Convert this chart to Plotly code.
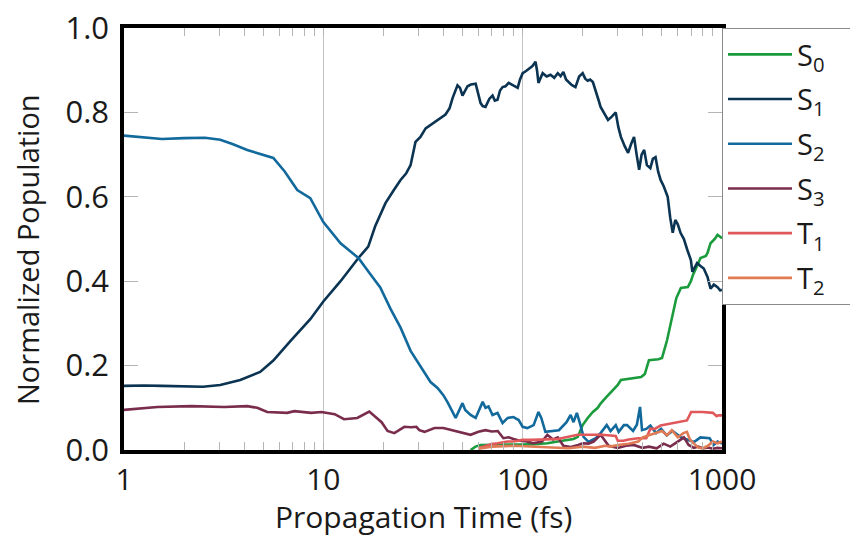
import plotly.graph_objects as go

# ---------------- data ----------------
t_s0 = [54.8, 58, 61.5, 70, 80, 100, 115, 133, 150, 168, 180, 189, 195, 200, 212, 225, 238, 246,
        260, 268, 280, 300, 311, 338, 393, 410, 430, 480, 500, 530, 553, 566, 590, 622, 650, 674,
        698, 715, 740, 780, 830, 846, 876, 920, 950, 980, 1000]
v_s0 = [0.0, 0.008, 0.012, 0.012, 0.012, 0.013, 0.014, 0.016, 0.020, 0.024, 0.026, 0.031, 0.045,
        0.059, 0.076, 0.090, 0.100, 0.110, 0.123, 0.130, 0.140, 0.154, 0.166, 0.168, 0.173, 0.180,
        0.213, 0.215, 0.218, 0.260, 0.300, 0.325, 0.360, 0.384, 0.385, 0.386, 0.400, 0.415, 0.430,
        0.455, 0.460, 0.467, 0.490, 0.500, 0.510, 0.505, 0.502]

t_s1 = [1, 1.26, 1.55, 2.0, 2.49, 3.04, 3.83, 4.82, 5.61, 6.83, 8.6, 10, 12.2, 15.0, 16.8, 18.2,
        20.5, 22.5, 24.4, 26, 27.4, 29.0, 30.7, 32.6, 35, 37.4, 41.0, 43, 44.5, 47.1, 48.5, 49.9,
        52.9, 55, 58.1, 61.5, 63, 65.1, 68, 70.6, 72.5, 74.8, 77, 79.3, 82, 85.1, 90, 94.4, 97, 100,
        104, 107, 112, 116, 118, 120, 126, 132, 138, 144, 150, 155, 160, 165, 169.6, 176, 184, 192,
        200, 206, 212, 218, 225, 233, 240, 246, 256, 268, 280, 293, 302, 311, 325, 338, 350, 362,
        373, 384, 395, 407, 420, 437, 450, 464, 478, 492, 510, 534, 550, 566, 583, 600, 620, 644,
        670, 698, 710, 723, 750, 780, 810, 846, 876, 910, 950, 980, 1000]
v_s1 = [0.152, 0.153, 0.152, 0.151, 0.150, 0.154, 0.166, 0.185, 0.212, 0.258, 0.310, 0.352, 0.400,
        0.455, 0.482, 0.530, 0.585, 0.615, 0.640, 0.655, 0.675, 0.730, 0.742, 0.762, 0.772, 0.782,
        0.795, 0.810, 0.834, 0.864, 0.858, 0.840, 0.862, 0.866, 0.868, 0.822, 0.815, 0.813, 0.832,
        0.840, 0.828, 0.830, 0.852, 0.860, 0.862, 0.870, 0.864, 0.858, 0.878, 0.893, 0.898, 0.902,
        0.910, 0.920, 0.900, 0.870, 0.893, 0.885, 0.889, 0.882, 0.893, 0.886, 0.896, 0.878, 0.872,
        0.865, 0.860, 0.885, 0.893, 0.880, 0.875, 0.878, 0.872, 0.846, 0.830, 0.813, 0.800, 0.782,
        0.790, 0.800, 0.765, 0.742, 0.720, 0.704, 0.725, 0.742, 0.700, 0.664, 0.700, 0.711, 0.675,
        0.668, 0.690, 0.694, 0.660, 0.640, 0.625, 0.600, 0.550, 0.515, 0.545, 0.535, 0.514, 0.500,
        0.474, 0.450, 0.422, 0.430, 0.443, 0.436, 0.430, 0.410, 0.382, 0.392, 0.386, 0.378, 0.380]

t_s2 = [1, 1.26, 1.55, 2.0, 2.55, 3.04, 3.5, 4.15, 5.0, 5.61, 6.4, 7.4, 8.6, 10, 12.2, 15.0, 17.0,
        19.3, 21.7, 24.4, 27.4, 30.7, 34.5, 37.4, 40.0, 41.9, 46.1, 49.9, 51.5, 54.8, 58.1, 63.0,
        65.1, 67.4, 70.6, 74.8, 79.3, 84.1, 89.8, 95.5, 100, 105.5, 113.5, 120, 124, 130, 140, 152,
        166, 174, 180, 187, 195, 202, 214, 233, 246, 264, 276, 293, 303, 322, 334, 358, 374, 388,
        397, 417, 437, 467, 495, 527, 566, 622, 667, 723, 780, 867, 907, 950, 1000]
v_s2 = [0.745, 0.741, 0.737, 0.739, 0.740, 0.735, 0.725, 0.711, 0.700, 0.692, 0.660, 0.616, 0.597,
        0.540, 0.490, 0.455, 0.420, 0.385, 0.335, 0.290, 0.235, 0.200, 0.161, 0.147, 0.130, 0.114,
        0.076, 0.111, 0.095, 0.083, 0.076, 0.114, 0.100, 0.103, 0.083, 0.088, 0.064, 0.076, 0.078,
        0.071, 0.055, 0.052, 0.059, 0.090, 0.076, 0.043, 0.045, 0.047, 0.066, 0.083, 0.066, 0.088,
        0.059, 0.031, 0.019, 0.028, 0.040, 0.059, 0.045, 0.059, 0.043, 0.059, 0.059, 0.045, 0.060,
        0.102, 0.047, 0.050, 0.058, 0.040, 0.050, 0.035, 0.045, 0.030, 0.025, 0.019, 0.030, 0.028,
        0.012, 0.020, 0.015]

t_s3 = [1, 1.47, 2.17, 3.18, 4.15, 4.66, 5.23, 6.59, 7.15, 8.7, 9.78, 11.4, 12.7, 14.8, 17.0, 19.6,
        21.0, 22.7, 25.5, 27.5, 29.3, 30.3, 32.2, 36.1, 40, 45, 49.5, 54.8, 60, 65, 70, 75, 80, 85,
        90, 97, 105, 113, 125, 133, 142, 150, 160, 174, 190, 200, 214, 227, 246, 270, 300, 330, 360,
        400, 430, 470, 510, 550, 600, 644, 680, 723, 760, 800, 850, 900, 950, 1000]
v_s3 = [0.095, 0.102, 0.104, 0.102, 0.104, 0.100, 0.090, 0.088, 0.092, 0.088, 0.090, 0.085, 0.073,
        0.076, 0.091, 0.066, 0.045, 0.040, 0.055, 0.054, 0.055, 0.047, 0.043, 0.052, 0.052, 0.046,
        0.040, 0.036, 0.043, 0.047, 0.044, 0.045, 0.028, 0.030, 0.026, 0.022, 0.020, 0.016, 0.020,
        0.036, 0.025, 0.030, 0.010, 0.007, 0.012, 0.016, 0.015, 0.020, 0.036, 0.010, 0.005, 0.010,
        0.012, 0.005, 0.008, 0.004, 0.015, 0.008, 0.020, 0.030, 0.012, 0.005, 0.008, 0.004, 0.006,
        0.003, 0.005, 0.004]

t_t1 = [60, 66, 70, 75, 84, 90, 100, 110, 150, 189, 200, 250, 293, 300, 320, 340, 380, 417, 437,
        460, 492, 520, 560, 640, 667, 700, 723, 800, 900, 940, 960, 1000]
v_t1 = [0.004, 0.010, 0.014, 0.016, 0.020, 0.020, 0.024, 0.024, 0.026, 0.036, 0.036, 0.036, 0.033,
        0.022, 0.022, 0.025, 0.028, 0.028, 0.050, 0.050, 0.058, 0.060, 0.062, 0.068, 0.070, 0.090,
        0.090, 0.090, 0.088, 0.080, 0.082, 0.082]

t_t2 = [60, 70, 90, 110, 140, 170, 200, 230, 260, 276, 300, 340, 380, 400, 430, 460, 500, 530, 560,
        600, 640, 667, 690, 723, 760, 800, 850, 900, 950, 1000]
v_t2 = [0.003, 0.008, 0.010, 0.008, 0.006, 0.004, 0.008, 0.005, 0.010, 0.008, 0.012, 0.015, 0.020,
        0.030, 0.035, 0.040, 0.045, 0.035, 0.047, 0.030, 0.040, 0.043, 0.025, 0.015, 0.006, 0.004,
        0.010, 0.020, 0.016, 0.020]

names = ["S<sub>0</sub>", "S<sub>1</sub>", "S<sub>2</sub>", "S<sub>3</sub>", "T<sub>1</sub>", "T<sub>2</sub>"]
colors = ["#1a9b3c", "#0b3352", "#11699c", "#7a2c4d", "#e0585a", "#e07b55"]
series = [(t_s0, v_s0), (t_s1, v_s1), (t_s2, v_s2), (t_s3, v_s3), (t_t1, v_t1), (t_t2, v_t2)]

x_major = [1, 10, 100, 1000]
x_minor = [2, 3, 4, 5, 6, 7, 8, 9, 20, 30, 40, 50, 60, 70, 80, 90, 200, 300, 400, 500, 600, 700, 800, 900]
y_ticks = [0.0, 0.2, 0.4, 0.6, 0.8, 1.0]
x_title = "Propagation Time (fs)"
y_title = "Normalized Population"

FONT = "Open Sans"
TXT = "#1a1a1a"
PAD = "&nbsp;" * 14

fig = go.Figure()
for i, (name, col, (tx, vy)) in enumerate(zip(names, colors, series)):
    fig.add_trace(go.Scatter(x=tx, y=vy, mode="lines", name=name + PAD,
                             line=dict(color=col, width=2.6), legendgroup=f"g{i}"))

fig.update_layout(
    width=850, height=544,
    margin=dict(l=124, r=128, t=28, b=94, autoexpand=False),
    paper_bgcolor="white", plot_bgcolor="white",
    font=dict(family=FONT, size=29, color=TXT),
    showlegend=True,
    legend=dict(x=1.0, xanchor="left", y=1.0, yanchor="top",
                bordercolor="#8a8a8a", borderwidth=1, bgcolor="white",
                font=dict(family=FONT, size=29, color=TXT),
                itemwidth=64, tracegroupgap=4),
    xaxis=dict(type="log", range=[0, 3], tickvals=x_major, ticktext=[str(v) for v in x_major],
               showgrid=True, gridcolor="#c4c4c4", gridwidth=1,
               ticks="inside", ticklen=8, tickcolor="#b5b5b5",
               showline=True, linecolor="black", linewidth=3.5, mirror="allticks",
               minor=dict(tickvals=x_minor, ticks="inside", ticklen=8, tickcolor="#b5b5b5", showgrid=False),
               tickfont=dict(size=30), zeroline=False),
    yaxis=dict(range=[0, 1], tickvals=y_ticks, tickformat=".1f",
               showgrid=False, ticks="inside", ticklen=14, tickcolor="#b5b5b5",
               showline=True, linecolor="black", linewidth=3.5, mirror="allticks",
               tickfont=dict(size=31), zeroline=False, ticklabelstandoff=5),
    annotations=[
        dict(text=x_title, xref="paper", yref="paper", x=0.5, y=0, xanchor="center",
             yanchor="middle", yshift=-66, showarrow=False, font=dict(size=30, color=TXT)),
        dict(text=y_title, xref="paper", yref="paper", x=0, y=0.474, xanchor="center",
             yanchor="middle", xshift=-96, textangle=-90, showarrow=False,
             font=dict(size=29, color=TXT)),
    ],
)

fig.write_html("out.html")
